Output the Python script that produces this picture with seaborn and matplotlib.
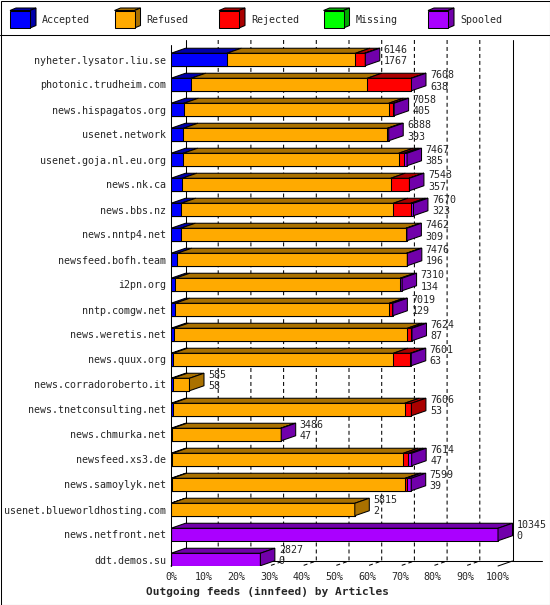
import matplotlib
matplotlib.use("Agg")
import matplotlib.pyplot as plt
from matplotlib.patches import Polygon, Rectangle
import numpy as np
import seaborn as sns

# --- data (articles per outgoing innfeed peer) ---
hosts = [
    "nyheter.lysator.liu.se", "photonic.trudheim.com", "news.hispagatos.org",
    "usenet.network", "usenet.goja.nl.eu.org", "news.nk.ca", "news.bbs.nz",
    "news.nntp4.net", "newsfeed.bofh.team", "i2pn.org", "nntp.comgw.net",
    "news.weretis.net", "news.quux.org", "news.corradoroberto.it",
    "news.tnetconsulting.net", "news.chmurka.net", "newsfeed.xs3.de",
    "news.samoylyk.net", "usenet.blueworldhosting.com", "news.netfront.net",
    "ddt.demos.su",
]
accepted = [1767, 638, 405, 393, 385, 357, 323, 309, 196, 134, 129,
            87, 63, 58, 53, 47, 47, 39, 2, 0, 0]
refused = [4069, 5572, 6483, 6455, 6818, 6594, 6711, 7123, 7255, 7116, 6778,
           7390, 6971, 527, 7340, 3423, 7303, 7375, 5813, 0, 0]
rejected = [290, 1390, 150, 0, 160, 580, 550, 0, 0, 0, 92,
            130, 540, 0, 213, 0, 158, 40, 0, 0, 0]
missing = [0] * 21
spooled = [20, 8, 20, 40, 104, 12, 86, 30, 25, 60, 20,
           17, 27, 0, 0, 16, 106, 145, 0, 10345, 2827]

series_names = ["Accepted", "Refused", "Rejected", "Missing", "Spooled"]
front_colors = ["#0000ff", "#ffaa00", "#ff0000", "#00ff00", "#aa00ff"]
dark_colors = ["#0000aa", "#aa7100", "#aa0000", "#00aa00", "#7100aa"]
xticks = list(range(0, 101, 10))
title = "Outgoing feeds (innfeed) by Articles"

sns.set_theme(style="white")
plt.rcParams["font.family"] = ["DejaVu Sans Mono"]

W, H = 550, 605
FS = 7.2
LW = 0.75

fig = plt.figure(figsize=(W / 100, H / 100), dpi=100)
fig.patch.set_facecolor("white")

# pixel overlay: frame + legend
bg = fig.add_axes([0, 0, 1, 1])
bg.set_xlim(0, W)
bg.set_ylim(H, 0)
bg.axis("off")
bg.add_patch(Rectangle((0.5, 0.5), W - 1, H - 1, fill=False, ec="black", lw=LW))
bg.plot([0, W], [35, 35], color="black", lw=LW)
for j, name in enumerate(series_names):
    x0 = 10 + 104.5 * j
    bg.add_patch(Polygon([(x0, 10.5), (x0 + 20, 10.5), (x0 + 26, 8), (x0 + 6, 8)],
                         fc=dark_colors[j], ec="black", lw=LW))
    bg.add_patch(Polygon([(x0 + 20, 28), (x0 + 20, 10.5), (x0 + 26, 8), (x0 + 26, 25.5)],
                         fc=dark_colors[j], ec="black", lw=LW))
    bg.add_patch(Rectangle((x0, 10.5), 20, 17.5, fc=front_colors[j], ec="black", lw=LW))
    bg.text(x0 + 32, 20, name, fontsize=FS, va="center", ha="left")

# main axes geometry (pixels)
PX0, PXU = 171, 3.27          # 0% position, px per percent
PY0, PYR = 59.5, 25.0         # first row centre, px per row
ax = fig.add_axes([PX0 / W, 1 - 566 / H, (543 - PX0) / W, (566 - 36) / H])
ax.set_facecolor("none")


def px_x(p):
    return (p - PX0) / PXU


def px_y(p):
    return (p - PY0) / PYR


DX = 14.5 / PXU
DY = 5 / PYR
BH = 0.5
y_top, y_back, y_front = px_y(40), px_y(561), px_y(566)

# back wall / floor
for p in xticks[1:-1]:
    ax.plot([p + DX, p + DX, p], [y_top, y_back, y_front], color="black", lw=LW,
            ls=(0, (3.8, 2.9)), zorder=0.5, clip_on=False)
solid = dict(color="black", lw=LW, zorder=0.6, clip_on=False)
ax.plot([0, 0], [px_y(45), y_front], **solid)
ax.plot([0, DX], [y_front, y_back], **solid)
ax.plot([DX, DX], [y_top, y_back], **solid)
ax.plot([100 + DX, 100 + DX], [y_top, y_back], **solid)
ax.plot([100, 100 + DX], [y_front, y_back], **solid)
ax.plot([DX, px_x(542)], [y_back, y_back], **solid)

# stacked front faces
segs = np.array([accepted, refused, rejected, missing, spooled], dtype=float)
totals = segs.sum(axis=0)
scale = 100 / totals.max()
layers = np.cumsum(segs, axis=0) * scale
for k in reversed(range(len(series_names))):
    sns.barplot(x=layers[k], y=hosts, orient="h", color=front_colors[k],
                saturation=1, width=BH, edgecolor="black", linewidth=LW,
                errorbar=None, ax=ax)

# 3d top and side faces, value labels
for i in range(len(hosts)):
    yt = i - BH / 2
    start = 0.0
    last = None
    for k in range(len(series_names)):
        end = layers[k, i]
        if segs[k, i] > 0:
            ax.add_patch(Polygon([(start, yt), (end, yt), (end + DX, yt - DY), (start + DX, yt - DY)],
                                 fc=dark_colors[k], ec="black", lw=LW, zorder=1.5))
            last = k
        start = end
    e = layers[-1, i]
    if last is not None:
        ax.add_patch(Polygon([(e, i + BH / 2), (e, yt), (e + DX, yt - DY), (e + DX, i + BH / 2 - DY)],
                             fc=dark_colors[last], ec="black", lw=LW, zorder=1.5))
    ax.text(e + DX + 1.2, i - 0.38, f"{int(totals[i])}", fontsize=FS, va="center", ha="left")
    ax.text(e + DX + 1.2, i + 0.08, f"{accepted[i]}", fontsize=FS, va="center", ha="left")

ax.set_xlim(0, px_x(543))
ax.set_ylim(y_front, px_y(36))
ax.set_xticks(xticks)
ax.set_xticklabels([f"{t}%" for t in xticks])
ax.set_xlabel("")
ax.set_ylabel("")
ax.tick_params(axis="x", length=0, pad=4, labelsize=FS)
ax.tick_params(axis="y", length=0, pad=3.6, labelsize=FS)
for s in ax.spines.values():
    s.set_visible(False)

fig.text(268 / W, 1 - 592 / H, title, ha="center", va="center",
         fontsize=8, fontweight="bold")

fig.savefig("out.png", dpi=100)
